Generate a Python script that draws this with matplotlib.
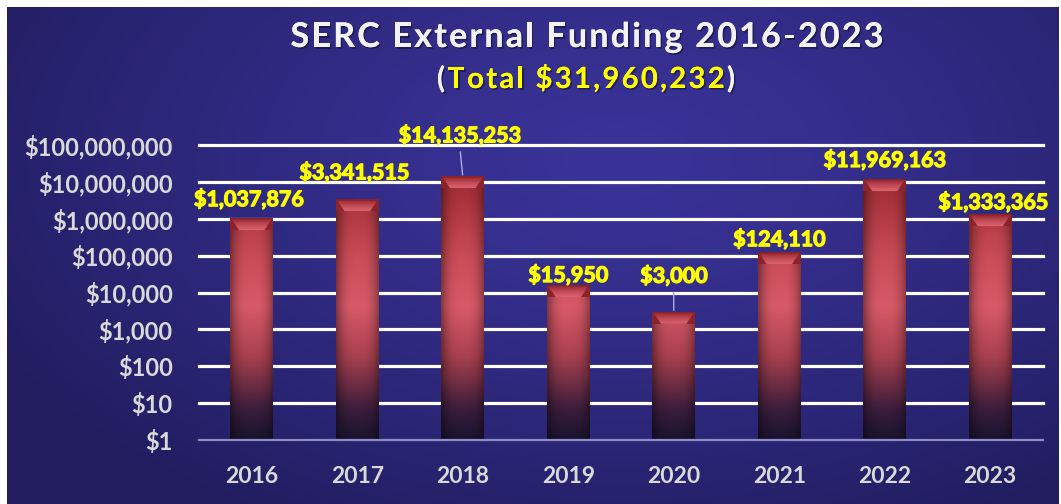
import numpy as np
import matplotlib
matplotlib.use("Agg")
import matplotlib.pyplot as plt
import matplotlib.patheffects as pe
from matplotlib import transforms, font_manager
from matplotlib.ft2font import FT2Font
from matplotlib.colors import LinearSegmentedColormap, to_rgb
from matplotlib.patches import Polygon

plt.rcParams["font.family"] = ["Lato", "DejaVu Sans"]

# data
years = ["2016", "2017", "2018", "2019", "2020", "2021", "2022", "2023"]
funding = [1037876, 3341515, 14135253, 15950, 3000, 124110, 11969163, 1333365]
value_labels = ["$1,037,876", "$3,341,515", "$14,135,253", "$15,950",
                "$3,000", "$124,110", "$11,969,163", "$1,333,365"]
tick_values = [1, 10, 100, 1000, 10000, 100000, 1000000, 10000000, 100000000]
tick_labels = ["$1", "$10", "$100", "$1,000", "$10,000", "$100,000",
               "$1,000,000", "$10,000,000", "$100,000,000"]
title = "SERC External Funding 2016-2023"
subtitle = "(Total $31,960,232)"

# label placement (pixels: x shift, baseline height above bar top)
label_dx = [-3, -3, -3, 0, 0, 0, 0, 3]
label_dy = [12, 20, 34, 3, 29, 6, 12, 5]
leader = [False, False, True, False, True, False, False, False]

W, H = 1061, 504
YELLOW = "#ffff00"
WHITE = "#f2f2f2"
TICK_GREY = "#d9d9d9"

fig = plt.figure(figsize=(W / 100, H / 100), dpi=100)
fig.patch.set_facecolor("white")

# radial blue background
bg = fig.add_axes([7 / W, 0, (W - 9) / W, (H - 7) / H])
bg.set_axis_off()
gy, gx = np.mgrid[0:H - 7, 0:W - 9]
d = np.sqrt(((gx - 610) / 720.0) ** 2 + ((gy - 150) / 420.0) ** 2)
d = np.clip(d, 0, 1) ** 1.3
c_in = np.array(to_rgb("#3a3399"))
c_out = np.array(to_rgb("#211d5f"))
img = c_in[None, None, :] * (1 - d[..., None]) + c_out[None, None, :] * d[..., None]
bg.imshow(img, aspect="auto", extent=[0, 1, 0, 1], origin="upper")
bg.set_xlim(0, 1)
bg.set_ylim(0, 1)

# main axes
ax = fig.add_axes([199 / W, (H - 440) / H, 844 / W, 295 / H])
ax.patch.set_alpha(0)
ax.set_yscale("log")
x = np.arange(len(years))


def fix_limits():
    ax.set_xlim(-0.5, len(years) - 0.5)
    ax.set_ylim(tick_values[0], tick_values[-1])


fix_limits()
for s in ax.spines.values():
    s.set_visible(False)

for v in tick_values[1:]:
    ax.axhline(v, color="white", lw=2.3, zorder=1, clip_on=False)
ax.axhline(tick_values[0], color="#8e8cc4", lw=1.6, zorder=6, clip_on=False)

ax.set_yticks(tick_values, tick_labels)
ax.yaxis.set_minor_locator(matplotlib.ticker.NullLocator())
ax.set_xticks(x, years)
ax.tick_params(axis="y", length=0, pad=19, labelsize=17, labelcolor=TICK_GREY)
ax.tick_params(axis="x", length=0, pad=19, labelsize=16.5, labelcolor=TICK_GREY)
for lab in ax.get_xticklabels() + ax.get_yticklabels():
    lab.set_fontweight("bold")

bars = ax.bar(x, funding, width=0.41, color="none", edgecolor="none", zorder=3)

# bar shading: vertical (axes fraction) x horizontal cylinder shading
body = LinearSegmentedColormap.from_list("body", [
    (0.00, "#1a1430"),
    (0.10, "#3b1d3c"),
    (0.28, "#a8404f"),
    (0.45, "#d85a68"),
    (0.62, "#c94c58"),
    (0.82, "#a8323b"),
    (1.00, "#952830"),
])
ny, nx = 300, 60
fy = np.linspace(1, 0, ny)
cols = body(fy)[:, :3]
hx = np.linspace(-1, 1, nx)
shade = 1 - 0.38 * np.abs(hx) ** 3
bar_img = cols[:, None, :] * shade[None, :, None]
blend = transforms.blended_transform_factory(ax.transData, ax.transAxes)

for b in bars:
    x0 = b.get_x()
    x1 = x0 + b.get_width()
    im = ax.imshow(bar_img, extent=[x0, x1, 0, 1], transform=blend,
                   aspect="auto", origin="upper", zorder=3, interpolation="bilinear")
    im.set_clip_path(b)
fix_limits()

# bevel at bar tops (pixel geometry)
bevel_cmap = LinearSegmentedColormap.from_list("bevel", ["#9a2a32", "#c04a55", "#d9646e"])
bevel_img = bevel_cmap(np.linspace(0, 1, 30))[:, None, :3] * np.ones((1, 20, 1))
to_fig = fig.transFigure.inverted()
for b in bars:
    x0 = b.get_x()
    x1 = x0 + b.get_width()
    top = b.get_height()
    (px0, py), (px1, _) = ax.transData.transform([(x0, top), (x1, top)])
    band = [(px0, py), (px1, py), (px1, py - 12), (px0, py - 12)]
    trap = [(px0 + 2, py - 1.5), (px1 - 2, py - 1.5), (px1 - 9, py - 12), (px0 + 9, py - 12)]
    ax.add_patch(Polygon(to_fig.transform(band), closed=True, transform=fig.transFigure,
                         facecolor="#8c232b", edgecolor="none", zorder=4))
    tp = Polygon(to_fig.transform(trap), closed=True, transform=fig.transFigure,
                 facecolor="none", edgecolor="none", zorder=4)
    ax.add_patch(tp)
    bim = ax.imshow(bevel_img, extent=[px0 / W, px1 / W, (py - 12) / H, (py - 1.5) / H],
                    transform=fig.transFigure, aspect="auto", origin="upper",
                    zorder=4.5, interpolation="bilinear")
    bim.set_clip_path(tp)
fix_limits()

# value labels
thick = [pe.withStroke(linewidth=0.9, foreground=YELLOW)]
for xi, v, lab, dx, dy, ld in zip(x, funding, value_labels, label_dx, label_dy, leader):
    kw = {}
    if ld:
        kw["arrowprops"] = dict(arrowstyle="-", color="#a9aede", lw=1.0,
                                shrinkA=2, shrinkB=1, relpos=(0.5, 0.0))
    ax.annotate(lab, xy=(xi, v), xytext=(dx * 0.72, dy * 0.72), textcoords="offset points",
                ha="center", va="baseline", color=YELLOW, fontsize=15.5, fontweight="bold",
                zorder=7, annotation_clip=False, path_effects=thick, **kw)

# titles with expanded letter spacing
shadow = [pe.withSimplePatchShadow(offset=(1.2, -1.2), shadow_rgbFace="#111133", alpha=0.6),
          pe.Normal()]
bold_path = font_manager.findfont(font_manager.FontProperties(family="Lato", weight="bold"))


def spaced_text(s, cx, baseline, size, width, colors):
    ft = FT2Font(bold_path)
    ft.set_size(size, 100)
    adv = [ft.load_char(ord(c)).linearHoriAdvance / 65536.0 for c in s]
    gap = (width - sum(adv)) / (len(s) - 1)
    xpos = cx - width / 2.0
    for c, a, col in zip(s, adv, colors):
        fig.text(xpos / W, 1 - baseline / H, c, ha="left", va="baseline", color=col,
                 fontsize=size, fontweight="bold", path_effects=shadow)
        xpos += a + gap


spaced_text(title, 587, 47, 24.5, 593, [WHITE] * len(title))
sub_colors = [WHITE if c in "()" else YELLOW for c in subtitle]
spaced_text(subtitle, 586, 88, 21, 298, sub_colors)

fig.savefig("out.png", dpi=100, facecolor=fig.get_facecolor())
